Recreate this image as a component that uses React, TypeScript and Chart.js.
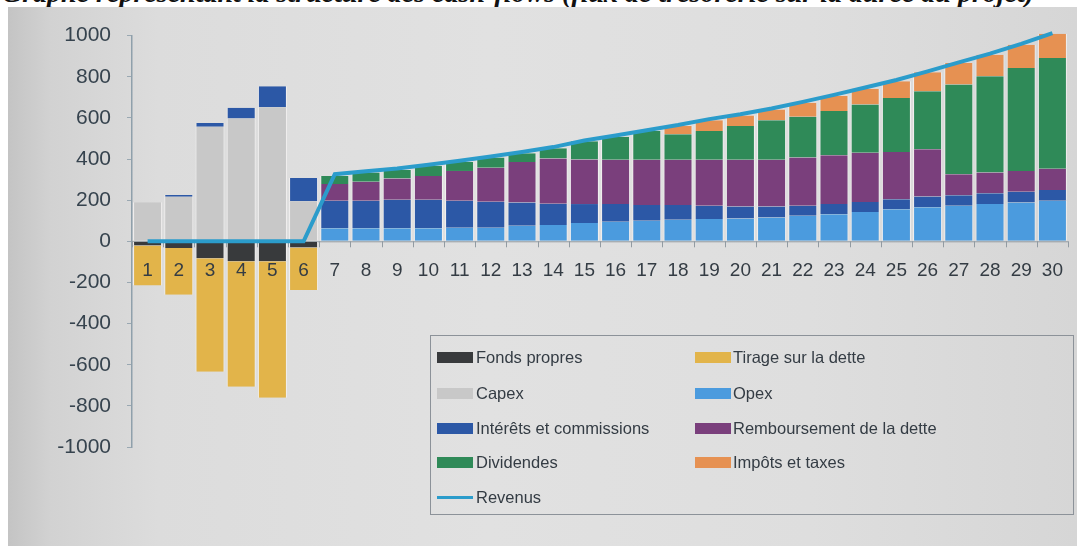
import { useEffect, useRef } from "react";
import { Chart, registerables } from "chart.js";

Chart.register(...registerables);

const TITLE = "Graphe représentant la structure des cash-flows (flux de trésorerie sur la durée du projet)";

const years = ["1", "2", "3", "4", "5", "6", "7", "8", "9", "10", "11", "12", "13", "14", "15",
  "16", "17", "18", "19", "20", "21", "22", "23", "24", "25", "26", "27", "28", "29", "30"];

const yTicks = [1000, 800, 600, 400, 200, 0, -200, -400, -600, -800, -1000];

const fondsPropres = [-20, -32, -82, -97, -97, -30, null, null, null, null, null, null, null, null, null,
  null, null, null, null, null, null, null, null, null, null, null, null, null, null, null];
const tirageDette = [-195, -228, -552, -610, -663, -207, null, null, null, null, null, null, null, null, null,
  null, null, null, null, null, null, null, null, null, null, null, null, null, null, null];
const capex = [190, 217, 557, 597, 652, 195, null, null, null, null, null, null, null, null, null,
  null, null, null, null, null, null, null, null, null, null, null, null, null, null, null];
const opex = [null, null, null, null, null, null, 63, 63, 63, 63, 66, 66, 76, 79, 89,
  95, 100, 105, 108, 111, 116, 124, 132, 143, 156, 165, 173, 181, 189, 197];
const interets = [0, 8, 18, 52, 102, 113, 134, 134, 139, 139, 131, 126, 113, 103, 92,
  86, 76, 71, 65, 58, 53, 49, 49, 48, 49, 53, 51, 53, 52, 53];
const remboursement = [null, null, null, null, null, null, 81, 92, 103, 116, 145, 166, 197, 221, 217,
  215, 220, 220, 223, 227, 227, 234, 237, 240, 229, 229, 102, 100, 101, 103];
const dividendes = [null, null, null, null, null, null, 40, 45, 42, 49, 44, 49, 42, 49, 88,
  112, 140, 124, 140, 164, 193, 198, 215, 234, 263, 283, 436, 468, 501, 538];
const impots = [null, null, null, null, null, null, null, null, null, null, null, null, null, null, null,
  null, null, 40, 53, 52, 52, 68, 73, 77, 81, 92, 105, 105, 112, 118];
const revenus = [0, 0, 0, 0, 0, 0, 326, 340, 354, 372, 392, 412, 434, 458, 490,
  514, 540, 565, 594, 618, 646, 678, 712, 748, 784, 826, 870, 912, 960, 1012];

type Series = { label: string; data: (number | null)[]; color: string; kind: "bar" | "line" };

const series: Series[] = [
  { label: "Fonds propres", data: fondsPropres, color: "#383a3c", kind: "bar" },
  { label: "Tirage sur la dette", data: tirageDette, color: "#e2b44a", kind: "bar" },
  { label: "Capex", data: capex, color: "#c8c8c8", kind: "bar" },
  { label: "Opex", data: opex, color: "#4b9bde", kind: "bar" },
  { label: "Intérêts et commissions", data: interets, color: "#2c58a6", kind: "bar" },
  { label: "Remboursement de la dette", data: remboursement, color: "#7a3f7c", kind: "bar" },
  { label: "Dividendes", data: dividendes, color: "#2f8a58", kind: "bar" },
  { label: "Impôts et taxes", data: impots, color: "#e69152", kind: "bar" },
  { label: "Revenus", data: revenus, color: "#2b9ccb", kind: "line" },
];

const legendRows = [357, 393, 428, 462, 497];

// x axis drawn at y = 0 (line, tick marks between categories, labels below)
const zeroAxisPlugin = {
  id: "zeroAxis",
  beforeDatasetsDraw(chart: any) {
    const { ctx, scales, chartArea } = chart;
    const xs = scales.x;
    const y0 = scales.y.getPixelForValue(0);
    ctx.save();
    ctx.strokeStyle = "#929ba2";
    ctx.lineWidth = 1;
    ctx.beginPath();
    ctx.moveTo(chartArea.left, y0 + 0.5);
    ctx.lineTo(chartArea.right, y0 + 0.5);
    const n = chart.data.labels.length;
    const step = xs.getPixelForValue(1) - xs.getPixelForValue(0);
    for (let i = 0; i <= n; i++) {
      const x = Math.round(xs.getPixelForValue(0) - step / 2 + i * step) + 0.5;
      ctx.moveTo(x, y0);
      ctx.lineTo(x, y0 + 6);
    }
    ctx.stroke();
    ctx.restore();
  },
  afterDatasetsDraw(chart: any) {
    const { ctx, scales } = chart;
    const xs = scales.x;
    const y0 = scales.y.getPixelForValue(0);
    ctx.save();
    ctx.fillStyle = "#343c44";
    ctx.font = "19px 'Liberation Sans', Arial, sans-serif";
    ctx.textAlign = "center";
    ctx.textBaseline = "middle";
    chart.data.labels.forEach((lab: string, i: number) => {
      ctx.fillText(lab, xs.getPixelForValue(i), y0 + 29);
    });
    ctx.restore();
  },
};

export default function App() {
  const canvasRef = useRef<HTMLCanvasElement | null>(null);

  useEffect(() => {
    if (!canvasRef.current) return;
    const datasets: any[] = series.map((s) =>
      s.kind === "bar"
        ? {
            type: "bar",
            label: s.label,
            data: s.data,
            backgroundColor: s.color,
            borderColor: "rgba(245,243,243,0.9)",
            borderWidth: { left: 1, right: 1, top: 0, bottom: 0 },
            borderSkipped: false,
            barPercentage: 0.93,
            categoryPercentage: 1,
            stack: "cf",
            order: 1,
            clip: false,
          }
        : {
            type: "line",
            label: s.label,
            data: s.data,
            borderColor: s.color,
            backgroundColor: s.color,
            borderWidth: 4,
            pointRadius: 0,
            tension: 0,
            order: 0,
            clip: false,
          }
    );

    const chart = new Chart(canvasRef.current, {
      type: "bar",
      data: { labels: years, datasets },
      plugins: [zeroAxisPlugin],
      options: {
        animation: false,
        responsive: false,
        layout: { padding: { top: 27, bottom: 99, right: 9, left: 0 } },
        plugins: { legend: { display: false }, tooltip: { enabled: false }, title: { display: false } },
        scales: {
          x: {
            stacked: true,
            display: false,
            offset: true,
          },
          y: {
            stacked: true,
            min: -1000,
            max: 1000,
            afterFit: (s: any) => {
              s.width = 124;
            },
            afterBuildTicks: (s: any) => {
              s.ticks = yTicks.map((v) => ({ value: v }));
            },
            grid: { display: true, drawOnChartArea: false, drawTicks: true, tickLength: 5, color: "#9aa8b2" },
            border: { display: true, color: "#8fa0ab", width: 1.5 },
            ticks: {
              color: "#36434e",
              padding: 16,
              callback: (v: any) => String(v),
              font: { family: "'Liberation Sans', Arial, sans-serif", size: 21 },
            },
          },
        },
      },
    });
    return () => chart.destroy();
  }, []);

  return (
    <div
      style={{
        position: "fixed",
        left: 0,
        top: 0,
        width: 1077,
        height: 546,
        overflow: "hidden",
        background: "#ffffff",
      }}
    >
      <div
        style={{
          position: "absolute",
          left: 2,
          top: -21,
          whiteSpace: "nowrap",
          fontFamily: "'Liberation Serif', 'Times New Roman', serif",
          fontStyle: "italic",
          fontWeight: "bold",
          fontSize: 28,
          lineHeight: "28px",
          color: "#111",
        }}
      >
        {TITLE}
      </div>
      <div
        style={{
          position: "absolute",
          left: 8,
          top: 7,
          width: 1069,
          height: 539,
          background:
            "linear-gradient(90deg, #c4c4c4 0%, #d2d2d2 4%, #dcdcdc 14%, #e1e1e1 45%, #dedede 75%, #d6d6d6 100%)",
        }}
      >
        <canvas ref={canvasRef} width={1069} height={539} style={{ display: "block" }} />
      </div>
      <div
        style={{
          position: "absolute",
          left: 430,
          top: 335,
          width: 644,
          height: 180,
          border: "1px solid #8c9299",
          boxSizing: "border-box",
        }}
      />
      {series.map((s, i) => {
        const col = i % 2;
        const row = Math.floor(i / 2);
        const cy = legendRows[row];
        const swLeft = col === 0 ? 437 : 695;
        const txtLeft = col === 0 ? 476 : 733;
        const isLine = s.kind === "line";
        return (
          <div key={s.label}>
            <div
              style={{
                position: "absolute",
                left: swLeft,
                top: isLine ? cy - 1.5 : cy - 5.5,
                width: 36,
                height: isLine ? 3 : 11,
                background: s.color,
              }}
            />
            <div
              style={{
                position: "absolute",
                left: txtLeft,
                top: cy - 11,
                height: 22,
                lineHeight: "22px",
                whiteSpace: "nowrap",
                fontFamily: "'Liberation Sans', Arial, sans-serif",
                fontSize: 16.5,
                color: "#343c44",
              }}
            >
              {s.label}
            </div>
          </div>
        );
      })}
    </div>
  );
}
